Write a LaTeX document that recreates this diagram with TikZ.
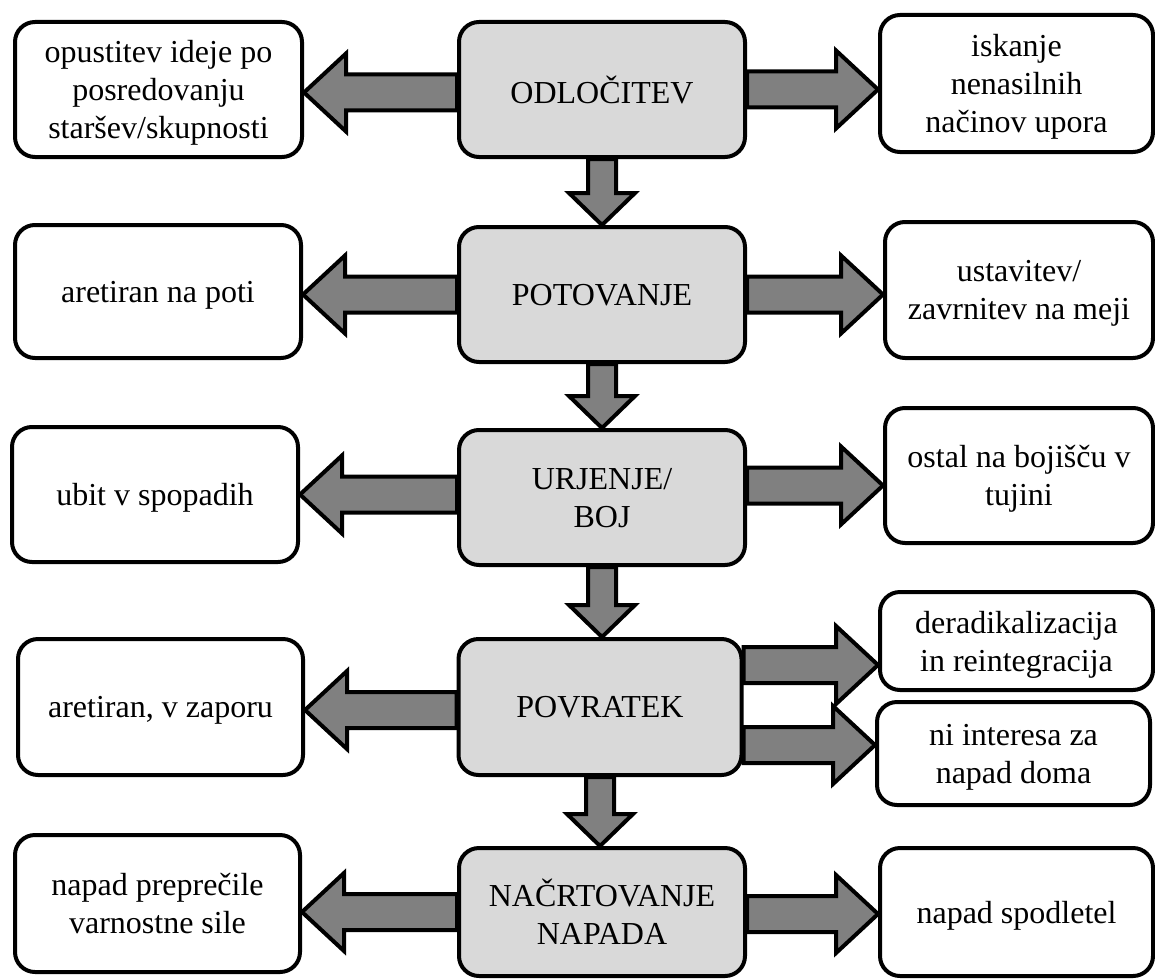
\documentclass[tikz,border=0pt]{standalone}
\usepackage{fontspec}
\setmainfont{Liberation Serif}
\newfontfamily\diagserif{Liberation Serif}
\usetikzlibrary{calc}
\pgfdeclarelayer{background}
\pgfsetlayers{background,main}
\definecolor{arrowgray}{HTML}{808080}
\definecolor{boxgray}{HTML}{D9D9D9}
\tikzset{
  box/.style={draw=black, line width=2pt, rounded corners=10pt, fill=white,
    align=center, inner sep=0pt, text depth=0pt, font=\diagserif\fontsize{16}{19}\selectfont},
  mainbox/.style={box, fill=boxgray},
  blockarr/.style={draw=black, line width=2pt, fill=arrowgray, line join=miter},
}
% horizontal block arrow: start coordinate, end coordinate (only x of end used)
\newcommand\harr[2]{%
  \draw[blockarr] let \p1=#1, \p2=#2,
      \n2={\x2-ifthenelse(\x2>\x1,21,-21)} in
    (\x1,{\y1+9pt}) -- ({\n2*1pt},{\y1+9pt}) -- ({\n2*1pt},{\y1+19.5pt})
    -- (\x2,\y1) -- ({\n2*1pt},{\y1-19.5pt}) -- ({\n2*1pt},{\y1-9pt})
    -- (\x1,{\y1-9pt}) -- cycle;}
% vertical block arrow (downwards): start coordinate, end coordinate (only y of end used)
\newcommand\varr[2]{%
  \draw[blockarr] let \p1=#1, \p2=#2 in
    ({\x1-7pt},\y1) -- ({\x1-7pt},{\y2+16pt}) -- ({\x1-16.5pt},{\y2+16pt})
    -- (\x1,\y2) -- ({\x1+16.5pt},{\y2+16pt}) -- ({\x1+7pt},{\y2+16pt})
    -- ({\x1+7pt},\y1) -- cycle;}
\begin{document}
\begin{tikzpicture}[x=0.5pt, y=-0.5pt]
\useasboundingbox (0,0) rectangle (1155,979);
% centre column
\node[mainbox, minimum width=143pt, minimum height=67.5pt] (C1) at (602,89.5) {ODLOČITEV};
\node[mainbox, minimum width=143pt, minimum height=67.5pt] (C2) at (602,294.5) {POTOVANJE};
\node[mainbox, minimum width=143pt, minimum height=67.5pt] (C3) at (602,497.5) {URJENJE/\\BOJ};
\node[mainbox, minimum width=141.5pt, minimum height=68pt] (C4) at (600,707) {POVRATEK};
\node[mainbox, minimum width=143pt, minimum height=64pt] (C5) at (602,912) {NAČRTOVANJE\\NAPADA};
% left column
\node[box, minimum width=143.5pt, minimum height=67.5pt] (L1) at (158.5,89.5) {opustitev ideje po\\posredovanju\\staršev/skupnosti};
\node[box, minimum width=143pt, minimum height=66.5pt] (L2) at (158,291.5) {aretiran na poti};
\node[box, minimum width=143pt, minimum height=67.5pt] (L3) at (155,494.5) {ubit v spopadih};
\node[box, minimum width=142.5pt, minimum height=68pt] (L4) at (160.5,707) {aretiran, v zaporu};
\node[box, minimum width=142.5pt, minimum height=68.5pt] (L5) at (157.5,903.5) {napad preprečile\\varnostne sile};
% right column
\node[box, minimum width=136.5pt, minimum height=68.5pt] (R1) at (1016.5,83.5) {iskanje\\nenasilnih\\načinov upora};
\node[box, minimum width=134pt, minimum height=68pt] (R2) at (1019,290) {ustavitev/\\zavrnitev na meji};
\node[box, minimum width=134pt, minimum height=67.5pt] (R3) at (1019,475.5) {ostal na bojišču v\\tujini};
\node[box, minimum width=136.5pt, minimum height=49pt] (R4) at (1016.5,641) {deradikalizacija\\in reintegracija};
\node[box, minimum width=136.5pt, minimum height=51.5pt] (R5) at (1013.5,753.5) {ni interesa za\\napad doma};
\node[box, minimum width=136.5pt, minimum height=64pt] (R6) at (1016.5,912) {napad spodletel};
\begin{pgfonlayer}{background}
% downward arrows
\varr{(C1.south)}{(C2.north)}
\varr{(C2.south)}{(C3.north)}
\varr{(C3.south)}{(C4.north)}
\varr{(C4.south)}{(C5.north)}
% left arrows
\harr{($(C1.west)+(0,3)$)}{(L1.east)}
\harr{(C2.west)}{(L2.east)}
\harr{($(C3.west)+(0,-3)$)}{(L3.east)}
\harr{($(C4.west)+(0,3)$)}{(L4.east)}
\harr{(C5.west)}{(L5.east)}
% right arrows
\harr{(C1.east)}{(R1.west)}
\harr{(C2.east)}{(R2.west)}
\harr{($(C3.east)+(0,-12)$)}{(R3.west)}
\harr{($(C4.east)+(0,-42)$)}{(R4.west)}
\harr{($(C4.east)+(0,38)$)}{(R5.west)}
\harr{($(C5.east)+(0,2)$)}{(R6.west)}
\end{pgfonlayer}
\end{tikzpicture}
\end{document}
